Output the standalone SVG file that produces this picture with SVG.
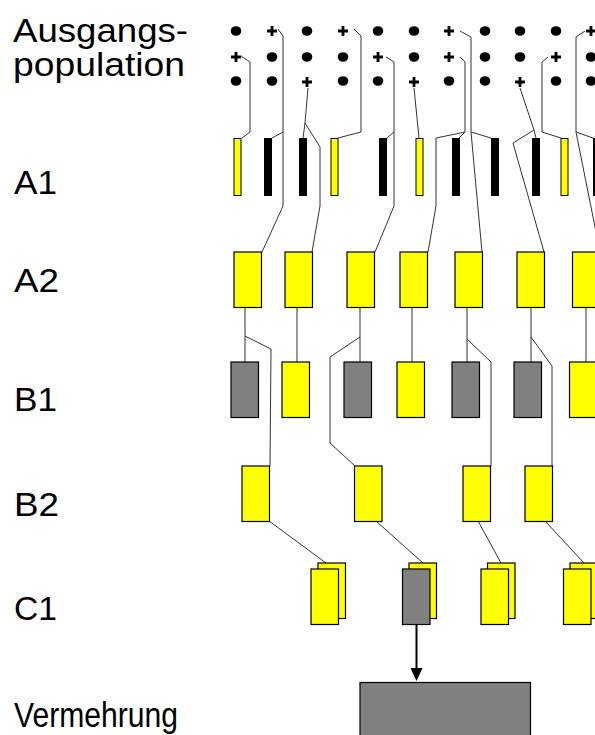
<svg xmlns="http://www.w3.org/2000/svg" width="595" height="735" viewBox="0 0 595 735">
<defs>
<style>
.lbl{font-family:"Liberation Sans",Arial,sans-serif;font-size:33px;fill:#000}
.dot{fill:#000}
.plus{stroke:#000;stroke-width:2.8;fill:none}
.bar-y{fill:#ffff00;stroke:#000;stroke-width:1}
.bar-k{fill:#000;stroke:#000;stroke-width:1}
.box-y{fill:#ffff00;stroke:#000;stroke-width:1.2}
.box-g{fill:#808080;stroke:#000;stroke-width:1.2}
.con{fill:none;stroke:#333;stroke-width:1}
.arrow{fill:none;stroke:#000;stroke-width:2}
</style>
<g id="p"><path class="plus" d="M-5,0H5M0,-5V5"/></g>
<g id="d"><ellipse class="dot" cx="0" cy="0" rx="5.3" ry="4.8"/></g>
</defs>
<rect width="595" height="735" fill="#fff"/>

<g id="labels">
<text class="lbl" x="13" y="42" textLength="175" lengthAdjust="spacingAndGlyphs">Ausgangs-</text>
<text class="lbl" x="13" y="76" textLength="172" lengthAdjust="spacingAndGlyphs">population</text>
<text class="lbl" x="14" y="194" textLength="43" lengthAdjust="spacingAndGlyphs">A1</text>
<text class="lbl" x="14" y="292" textLength="45" lengthAdjust="spacingAndGlyphs">A2</text>
<text class="lbl" x="14" y="411" textLength="43" lengthAdjust="spacingAndGlyphs">B1</text>
<text class="lbl" x="14" y="516" textLength="45" lengthAdjust="spacingAndGlyphs">B2</text>
<text class="lbl" x="14" y="620" textLength="43" lengthAdjust="spacingAndGlyphs">C1</text>
<text class="lbl" x="14" y="727" style="font-size:35px" textLength="164" lengthAdjust="spacingAndGlyphs">Vermehrung</text>
</g>

<g id="population">
<use href="#d" x="236" y="31"/><use href="#p" x="272" y="31"/><use href="#d" x="307" y="31"/><use href="#p" x="343" y="31"/><use href="#d" x="378" y="31"/><use href="#d" x="414" y="31"/><use href="#p" x="449" y="31"/><use href="#d" x="485" y="31"/><use href="#d" x="520" y="31"/><use href="#d" x="556" y="31"/><use href="#p" x="591" y="31"/>
<use href="#p" x="236" y="57"/><use href="#d" x="272" y="57"/><use href="#d" x="307" y="57"/><use href="#d" x="343" y="57"/><use href="#p" x="378" y="57"/><use href="#d" x="414" y="57"/><use href="#p" x="449" y="57"/><use href="#d" x="485" y="57"/><use href="#d" x="520" y="57"/><use href="#p" x="556" y="57"/><use href="#d" x="591" y="57"/>
<use href="#d" x="236" y="81"/><use href="#d" x="272" y="81"/><use href="#p" x="307" y="82"/><use href="#d" x="343" y="81"/><use href="#d" x="378" y="81"/><use href="#p" x="414" y="82"/><use href="#d" x="449" y="81"/><use href="#d" x="485" y="81"/><use href="#p" x="520" y="82"/><use href="#d" x="556" y="81"/><use href="#d" x="591" y="81"/>
</g>

<g id="connectors">
<path class="con" d="M241,56 L250,62 L250,132 L242,138"/>
<path class="con" d="M278,29 L283,36 L283,132 L272,138 M283,132 L283,206 L262,252"/>
<path class="con" d="M308,88 L305,123 L303,138 M305,123 L320,147 L320,206 L312,252"/>
<path class="con" d="M354,29 L361,36 L361,132 L338,138"/>
<path class="con" d="M386,57 L394,62 L394,132 L387,138 M394,132 L394,206 L375,252"/>
<path class="con" d="M414,88 L419,138"/>
<path class="con" d="M460,57 L465,62 L465,132 L459,138 M465,132 L436,138 L436,206 L428,252"/>
<path class="con" d="M460,31 L471,37 L471,132 L491,138 M471,132 L482,252"/>
<path class="con" d="M520,88 L534,130 L536,138 M534,130 L513,143 L544,252"/>
<path class="con" d="M548,57 L542,62 L542,132 L561,138"/>
<path class="con" d="M585,31 L576,37 L576,132 L593,138 M576,132 L600,252"/>

<path class="con" d="M245,307 L245,362 M245,336 L271,349 L270,466"/>
<path class="con" d="M297,307 L297,362"/>
<path class="con" d="M360,307 L360,362 M360,337 L330,357 L330,443 L355,466"/>
<path class="con" d="M412,307 L412,362"/>
<path class="con" d="M467,307 L467,362 M467,339 L491,362 L491,466"/>
<path class="con" d="M531,307 L531,362 M531,337 L552,366 L552,466"/>
<path class="con" d="M586,307 L586,362"/>

<path class="con" d="M269,521 L326,563"/>
<path class="con" d="M376,521 L423,563"/>
<path class="con" d="M478,521 L501,563"/>
<path class="con" d="M545,521 L584,563"/>

<path class="arrow" d="M416.5,624 V669"/>
<polygon points="410.5,668 422.5,668 416.5,681" fill="#000"/>
</g>

<g id="A1">
<rect class="bar-y" x="234" y="138.5" width="7" height="57"/>
<rect class="bar-k" x="264.5" y="138.5" width="7" height="57"/>
<rect class="bar-k" x="299.5" y="138.5" width="7" height="57"/>
<rect class="bar-y" x="331" y="138.5" width="7" height="57"/>
<rect class="bar-k" x="379.5" y="138.5" width="7" height="57"/>
<rect class="bar-y" x="416" y="138.5" width="7" height="57"/>
<rect class="bar-k" x="452.5" y="138.5" width="7" height="57"/>
<rect class="bar-k" x="491.5" y="138.5" width="7" height="57"/>
<rect class="bar-k" x="532.5" y="138.5" width="7" height="57"/>
<rect class="bar-y" x="561" y="138.5" width="7" height="57"/>
<rect class="bar-k" x="593.5" y="138.5" width="7" height="57"/>
</g>

<g id="A2">
<rect class="box-y" x="234" y="252" width="27.5" height="55.5"/>
<rect class="box-y" x="285" y="252" width="27.5" height="55.5"/>
<rect class="box-y" x="347" y="252" width="27.5" height="55.5"/>
<rect class="box-y" x="400" y="252" width="27.5" height="55.5"/>
<rect class="box-y" x="455" y="252" width="27.5" height="55.5"/>
<rect class="box-y" x="517" y="252" width="27.5" height="55.5"/>
<rect class="box-y" x="572.5" y="252" width="27.5" height="55.5"/>
</g>

<g id="B1">
<rect class="box-g" x="231" y="362" width="27.5" height="55.5"/>
<rect class="box-y" x="282" y="362" width="27.5" height="55.5"/>
<rect class="box-g" x="344" y="362" width="27.5" height="55.5"/>
<rect class="box-y" x="397" y="362" width="27.5" height="55.5"/>
<rect class="box-g" x="452" y="362" width="27.5" height="55.5"/>
<rect class="box-g" x="514" y="362" width="27.5" height="55.5"/>
<rect class="box-y" x="569.5" y="362" width="27.5" height="55.5"/>
</g>

<g id="B2">
<rect class="box-y" x="242" y="466" width="27.5" height="55.5"/>
<rect class="box-y" x="354.5" y="466" width="27.5" height="55.5"/>
<rect class="box-y" x="463" y="466" width="27.5" height="55.5"/>
<rect class="box-y" x="525" y="466" width="27.5" height="55.5"/>
</g>

<g id="C1">
<rect class="box-y" x="318" y="563" width="27.5" height="55.5"/>
<rect class="box-y" x="311" y="569" width="27.5" height="55.5"/>
<rect class="box-y" x="409" y="563" width="27.5" height="55.5"/>
<rect class="box-g" x="402.5" y="569" width="27.5" height="55.5"/>
<rect class="box-y" x="487.5" y="563" width="27.5" height="55.5"/>
<rect class="box-y" x="481" y="569" width="27.5" height="55.5"/>
<rect class="box-y" x="570" y="563" width="27.5" height="55.5"/>
<rect class="box-y" x="563.5" y="569" width="27.5" height="55.5"/>
</g>

<g id="Vermehrung-box">
<rect class="box-g" x="360" y="682.5" width="170.5" height="60"/>
</g>
</svg>
